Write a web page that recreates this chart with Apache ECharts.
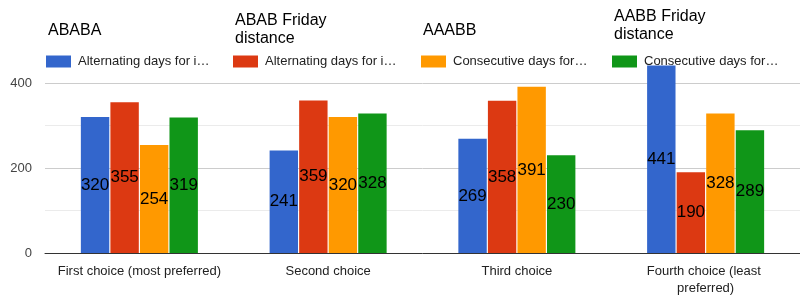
<!DOCTYPE html>
<html>
<head>
<meta charset="utf-8">
<script src="https://cdn.jsdelivr.net/npm/echarts@6/dist/echarts.min.js"></script>
<style>
  html, body { margin: 0; padding: 0; background: #fff; }
  #chart { width: 800px; height: 297px; }
</style>
</head>
<body>
<div id="chart"></div>
<script>
// data
const categories = ['First choice (most preferred)', 'Second choice', 'Third choice', 'Fourth choice (least preferred)'];
const seriesNames = ['ABABA', 'ABAB Friday distance', 'AAABB', 'AABB Friday distance'];
const legendLabels = ['Alternating days for i…', 'Alternating days for i…', 'Consecutive days for…', 'Consecutive days for…'];
const ababa = [320, 241, 269, 441];
const ababFriday = [355, 359, 358, 190];
const aaabb = [254, 320, 391, 328];
const aabbFriday = [319, 328, 230, 289];
const yTicks = [0, 200, 400];

const values = [ababa, ababFriday, aaabb, aabbFriday];
const colors = ['#3366cc', '#dc3912', '#ff9900', '#109618'];
const legendLeft = [46, 233, 421, 612];
const titleTop = [22, 12, 22, 8];

let chartDom = document.getElementById('chart');
let myChart = echarts.init(chartDom);

var option = {
  animation: false,
  textStyle: { fontFamily: 'Arial, "Liberation Sans", sans-serif' },
  title: seriesNames.map(function (name, i) {
    return {
      text: name,
      left: legendLeft[i] + 2,
      top: titleTop[i],
      padding: 0,
      textStyle: {
        fontSize: 16, fontWeight: 'normal', color: '#000',
        width: 110, overflow: 'break', lineHeight: 18
      }
    };
  }),
  legend: seriesNames.map(function (name, i) {
    return {
      data: [name],
      left: legendLeft[i],
      top: 55,
      padding: 0,
      itemWidth: 25,
      itemHeight: 12,
      icon: 'rect',
      formatter: function () { return legendLabels[i]; },
      textStyle: { fontSize: 13, color: '#222', padding: [0, 0, 0, 2] }
    };
  }),
  grid: { left: 45, right: 0, top: 83, bottom: 43 },
  xAxis: {
    type: 'category',
    data: categories,
    axisTick: { show: false },
    axisLine: { lineStyle: { color: '#333', width: 1 } },
    axisLabel: {
      fontSize: 13, color: '#222', margin: 10, interval: 0,
      width: 169, overflow: 'break', lineHeight: 17
    }
  },
  yAxis: {
    type: 'value',
    min: yTicks[0],
    max: yTicks[yTicks.length - 1],
    interval: 200,
    axisLine: { show: false },
    axisTick: { show: false },
    axisLabel: { fontSize: 13, color: '#444', margin: 13 },
    splitLine: { lineStyle: { color: '#cccccc' } },
    minorTick: { show: false, splitNumber: 2 },
    minorSplitLine: { show: true, lineStyle: { color: '#ebebeb' } }
  },
  series: seriesNames.map(function (name, i) {
    return {
      name: name,
      type: 'bar',
      data: values[i],
      clip: false,
      barGap: '4%',
      barCategoryGap: '38%',
      itemStyle: { color: colors[i] },
      label: {
        show: true,
        position: 'inside',
        color: '#000',
        fontSize: 17,
        textBorderWidth: 0
      }
    };
  })
};
myChart.setOption(option);
</script>
</body>
</html>
